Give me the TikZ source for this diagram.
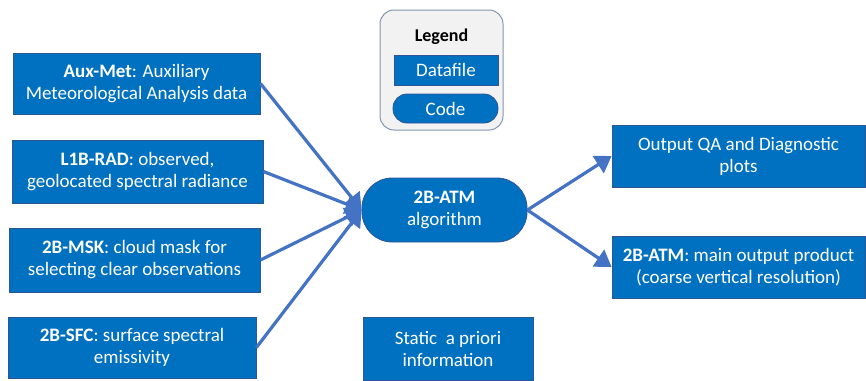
\documentclass[tikz,border=0pt]{standalone}
\usepackage{fontspec}
\setmainfont{Carlito}
\usetikzlibrary{arrows.meta}
\definecolor{boxblue}{HTML}{0070C0}
\definecolor{edgeblue}{HTML}{2F5597}
\definecolor{arrowblue}{HTML}{4472C4}
\definecolor{legendgray}{HTML}{F2F2F2}
\definecolor{legendedge}{HTML}{8497B0}
\tikzset{
 datafile/.style={rectangle,fill=boxblue,draw=edgeblue,line width=0.8pt,text=white,align=center,
  font=\fontsize{19}{22}\selectfont,inner sep=0pt},
 code/.style={datafile,rounded corners=#1},
 code/.default=30pt,
 flow/.style={arrowblue,line width=3.2pt,-{Triangle[width=20pt,length=16pt]}}
}
\begin{document}
\begin{tikzpicture}[x=1pt,y=-1pt]
 \useasboundingbox (0,0) rectangle (866,380);
 % legend
 \draw[legendedge,fill=legendgray,line width=1pt,rounded corners=14pt](380,10) rectangle (503,130);
 \node[font=\bfseries\fontsize{18}{22}\selectfont] (legtitle) at (441.5,37) {Legend};
 \node[datafile,minimum width=104pt,minimum height=30pt] (legfile) at (446,70) {Datafile};
 \node[code=14pt,minimum width=105pt,minimum height=29pt] (legcode) at (445.5,108.5) {Code};
 % inputs
 \node[datafile,minimum width=247pt,minimum height=61pt] (aux) at (136.5,83.5) {\textbf{Aux-Met}: Auxiliary\\Meteorological Analysis data};
 \node[datafile,minimum width=251pt,minimum height=63pt] (rad) at (137.5,171.5) {\textbf{L1B-RAD}: observed,\\geolocated spectral radiance};
 \node[datafile,minimum width=251pt,minimum height=64pt] (msk) at (134.5,260) {\textbf{2B-MSK}: cloud mask for\\selecting clear observations};
 \node[datafile,minimum width=248pt,minimum height=61pt] (sfc) at (132,347.5) {\textbf{2B-SFC}: surface spectral\\emissivity};
 % algorithm
 \node[code,minimum width=165pt,minimum height=64pt] (alg) at (444.5,210) {\textbf{2B-ATM}\\algorithm};
 % outputs
 \node[datafile,minimum width=253pt,minimum height=62pt] (qa) at (738.5,156) {Output QA and Diagnostic\\plots};
 \node[datafile,minimum width=253pt,minimum height=62pt] (prod) at (738.5,267) {\textbf{2B-ATM}: main output product\\(coarse vertical resolution)};
 \node[datafile,minimum width=170pt,minimum height=63pt] (static) at (448,348.5) {Static~ a priori\\information};
 % connectors
 \draw[flow] (aux.east) -- (alg.west);
 \draw[flow] (rad.east) -- (alg.west);
 \draw[flow] (msk.east) -- (alg.west);
 \draw[flow] (sfc.east) -- (alg.west);
 \draw[flow] (alg.east) -- (qa.west);
 \draw[flow] (alg.east) -- (prod.west);
\end{tikzpicture}
\end{document}
